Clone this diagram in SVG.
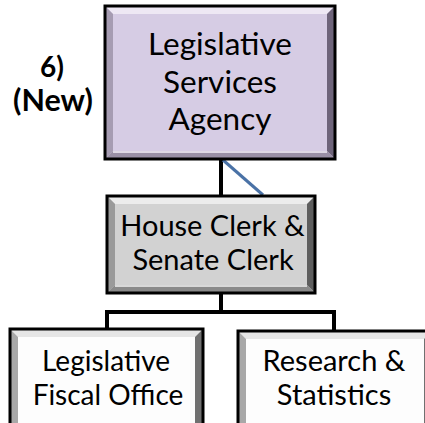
<svg xmlns="http://www.w3.org/2000/svg" width="425" height="423" viewBox="0 0 425 423">
<defs>
<style>
.lbl{font-family:Lato,"Open Sans","Liberation Sans",sans-serif;fill:#000;text-anchor:middle}
.frame{fill:none;stroke:#000;stroke-width:3}
.conn{fill:none;stroke:#000;stroke-width:4;stroke-linejoin:miter}
</style>
</defs>
<rect width="425" height="423" fill="#fff"/>
<g id="connectors">
<line x1="221" y1="159" x2="221" y2="196" class="conn"/>
<line x1="223" y1="160" x2="263" y2="195" stroke="#4a72a6" stroke-width="3"/>
<polyline points="221,293 221,312 107,312 107,329" class="conn"/>
<polyline points="221,312 334,312 334,331" class="conn"/>
</g>
<g id="label-new">
<text class="lbl" x="52" y="77" font-size="28" font-weight="bold">6)</text>
<text class="lbl" x="53" y="111" font-size="30.5" font-weight="bold">(New)</text>
</g>
<g id="node-lsa">
<rect x="105" y="6" width="230" height="153" fill="#d6cce4"/>
<polygon points="105,6 335,6 327,14 113,14" fill="#eee8f4"/>
<polygon points="105,6 113,14 113,151 105,159" fill="#a69cb2"/>
<polygon points="335,6 335,159 327,151 327,14" fill="#6e647a"/>
<polygon points="105,159 113,151 327,151 335,159" fill="#9a90a6"/>
<line x1="113" y1="152" x2="327" y2="152" stroke="#f4f0f8" stroke-width="1.5"/>
<rect x="105" y="6" width="230" height="153" class="frame"/>
<text class="lbl" x="220" y="55" font-size="31.5">Legislative</text>
<text class="lbl" x="220" y="93" font-size="31.5">Services</text>
<text class="lbl" x="220" y="130" font-size="31.5">Agency</text>
</g>
<g id="node-clerk">
<rect x="107" y="196" width="208" height="97" fill="#d2d2d2"/>
<polygon points="107,196 315,196 307,204 115,204" fill="#ececec"/>
<polygon points="107,196 115,204 115,285 107,293" fill="#9a9a9a"/>
<polygon points="315,196 315,293 307,285 307,204" fill="#5e5e5e"/>
<polygon points="107,293 115,285 307,285 315,293" fill="#8a8a8a"/>
<line x1="115" y1="286" x2="307" y2="286" stroke="#f2f2f2" stroke-width="1.5"/>
<rect x="107" y="196" width="208" height="97" class="frame"/>
<text class="lbl" x="212.5" y="236" font-size="29">House Clerk &amp;</text>
<text class="lbl" x="213" y="270" font-size="29">Senate Clerk</text>
</g>
<g id="node-fiscal">
<rect x="10" y="329" width="193" height="100" fill="#fdfdfd"/>
<polygon points="10,329 203,329 195,337 18,337" fill="#e6e6e6"/>
<polygon points="10,329 18,337 18,429 10,429" fill="#a8a8a8"/>
<polygon points="203,329 203,429 195,429 195,337" fill="#707070"/>
<rect x="10" y="329" width="193" height="100" class="frame"/>
<text class="lbl" x="106" y="371" font-size="28">Legislative</text>
<text class="lbl" x="108" y="405" font-size="28">Fiscal Office</text>
</g>
<g id="node-research">
<rect x="238" y="331" width="194" height="100" fill="#fdfdfd"/>
<polygon points="238,331 432,331 424,339 246,339" fill="#e6e6e6"/>
<polygon points="238,331 246,339 246,431 238,431" fill="#a8a8a8"/>
<polygon points="432,331 432,431 424,431 424,339" fill="#707070"/>
<rect x="238" y="331" width="194" height="100" class="frame"/>
<text class="lbl" x="334" y="371" font-size="29">Research &amp;</text>
<text class="lbl" x="334" y="405" font-size="29">Statistics</text>
</g>
</svg>
